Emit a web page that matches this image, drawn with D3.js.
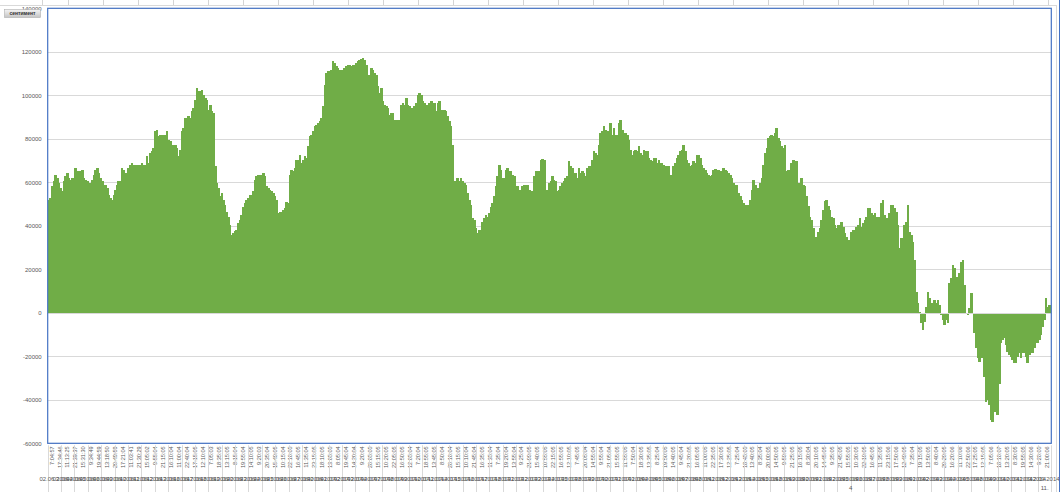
<!DOCTYPE html>
<html>
<head>
<meta charset="utf-8">
<script src="https://cdn.jsdelivr.net/npm/d3@7"></script>
<style>
  body { margin: 0; background: #fff; }
  text { font-family: "Liberation Sans", Arial, sans-serif; }
</style>
</head>
<body>
<svg id="chart"></svg>
<script>
// Page size and the plot box of the pivot chart.
const SVG_WIDTH = 1060;
const SVG_HEIGHT = 492;
const PLOT = {left: 47.7, right: 1051.3, top: 8.3, bottom: 443.3};

const yTicks = [140000, 120000, 100000, 80000, 60000, 40000, 20000, 0, -20000, -40000, -60000];

// сентимент, one value per bar
const sentiment = [
  51900, 52700, 58100, 60400, 63400, 61900, 59600, 57300, 55800, 60400,
  62700, 64200, 61900, 61100, 61900, 60400, 66500, 65000, 64200, 65000,
  65700, 61900, 61100, 60400, 59600, 59600, 61100, 63400, 65700, 66500,
  64200, 61900, 60400, 56500, 58800, 57300, 54200, 52700, 51900, 54200,
  56500, 58800, 60400, 60400, 66500, 65700, 64200, 64200, 66500, 68000,
  68800, 68000, 68000, 68000, 68000, 68000, 68800, 68000, 68000, 71900,
  68800, 73400, 74200, 75700, 83400, 84200, 81100, 81900, 81900, 81900,
  81900, 83400, 79600, 78800, 76500, 77300, 77300, 75700, 71900, 75000,
  83400, 84900, 89500, 88800, 90300, 89500, 92600, 94200, 98000, 103400,
  101800, 101800, 102600, 100300, 98800, 98000, 93400, 95700, 92600, 91900,
  67300, 59600, 57300, 53500, 55000, 51900, 49600, 46500, 44200, 40400,
  35800, 36900, 37400, 38100, 41200, 42700, 45000, 48800, 50400, 51900,
  52700, 54200, 54200, 55800, 61100, 62700, 63400, 61100, 63400, 64200,
  62700, 58100, 57300, 56500, 55800, 55000, 53500, 51900, 45800, 46500,
  46500, 47300, 48100, 51100, 50400, 63400, 65700, 65000, 66500, 70300,
  70300,
  72700, 68800, 70300, 71900, 71100, 76500, 81100, 81900, 83400, 85700,
  86500, 87200, 88000, 89500, 94900, 104900, 110300, 111100, 108700, 111800,
  115700, 114900, 113400, 112600, 111800, 111800, 111500, 112600, 113400, 114100,
  114100, 113400, 114100, 114100, 114900, 115700, 116400, 116700, 117200, 116400,
  114100, 108700, 109500, 112600, 111800, 110300, 109500, 104100, 101100, 103400,
  97200, 95700, 94900, 94200, 91100, 91900, 91900, 88800, 88800, 88000,
  88800, 95700, 96500, 95700, 98800, 95700, 94900, 94200, 94200, 94900,
  96500, 100300, 101100, 100300, 97200, 96500, 95700, 95700, 96500, 97200,
  95700, 96500, 92600, 96500, 97200, 92600, 93400, 93400, 92600, 90300,
  88000, 85700, 77300, 60400, 60400, 61900, 60400, 61900, 60400, 59600,
  58800, 55000, 51900, 49600, 43500, 42700, 38900, 36600, 38100, 38100,
  41900, 43500, 45000, 44200, 45800, 48800, 50400, 53500, 58100, 62700,
  68000, 65700, 61900, 61900, 65700, 66500, 65000, 65000, 63400, 62700,
  58100, 58100, 56500, 54200, 58100, 58800, 58100, 58800, 56500, 55800,
  55800, 62700, 65000, 65000, 65000, 70300,
  70700, 70300, 56500, 56500, 59600, 60400, 62700, 61100, 60400, 55800,
  56500, 58100, 59600, 60400, 61900, 62700, 69600, 67300, 66500, 62700,
  64200, 61900, 66500, 64200, 65000, 64200, 62700, 66500, 67300, 67300,
  70300, 74200, 73400, 72700, 77300, 82600, 83400, 85700, 84200, 83400,
  78000, 87200, 81900, 84900, 81900, 81900, 87200, 88800, 84200, 82600,
  82600, 81900, 79600, 75000, 72700, 74200, 75000, 74200, 76500, 73400,
  72700, 75000, 74200, 74200, 71100, 70300, 69600, 71100, 71100, 68800,
  70300, 68800, 68800, 68000, 67300, 66900, 67300, 63400, 63400, 67300,
  68800, 71100, 72700, 74200, 75000, 77300, 74200, 70300, 68800, 67300,
  68000, 69600, 68800, 72700, 72700, 71100, 68000, 66500, 65700, 64200,
  63400, 62700, 63400, 65700, 66200, 63400, 65700, 65400, 64200, 66500,
  65700, 65000, 64200, 63400, 61900, 59600, 58800, 58800, 55000, 53500,
  51900, 50400, 49600, 49200, 49600, 51900, 56500, 61100, 58800, 56500,
  57300, 59600, 61900, 68000, 73400, 75700, 80300, 81100, 81900, 81100,
  82600, 84900, 80300, 78800, 76500, 75700, 77300, 65000, 65700, 65700,
  68800, 70300, 68800,
  69600, 59600, 58800, 61900, 58800, 58100, 53600, 48900, 44200, 42700,
  38900, 34300, 35000, 37300, 38900, 42700, 47300, 51200, 51900, 48900,
  47300, 44200, 43500, 40400, 38900, 40400, 40400, 41900, 39600, 36600,
  35000, 33500, 31200, 37300, 38100, 35800, 39600, 40400, 43500, 39600,
  41200, 42700, 44200, 48100, 48100, 45800, 45000, 45800, 44200, 44200,
  44200, 50400, 51900, 45000, 43500, 41900, 45800, 49600, 49600, 48100,
  46500, 40400, 29700, 34300, 31200, 40400, 41900, 49600, 37300, 35800,
  32700, 24300, 9700, 4300, 500, -4900, -8000, -4100, 2800, 9700,
  6600, 4300, 3600, 5800, 4300, 5800, 3600, -1100, -3400, -5700,
  -3400, -4900, 13500, 15800, 22000, 20400, 16600, 16600, 18100, 23500,
  24300, 12800, -300, -1100, 2000, 8900, -300, -9500, -16400, -21000,
  -22500, -21000, -20300, -29500, -41000, -40200, -42500, -49400, -50200, -45600,
  -41800, -47100, -32600, -14100, -12600, -11800, -14900, -18000, -19500, -20300,
  -21800, -23300, -23300, -20300, -18700, -21000, -18700, -18700, -20300, -23300,
  -19500, -17200, -18700, -16400, -13300, -14100, -12600, -10300, -6500, -3400,
  6600, 2800, 3600, 2800
];

// first level of the category axis (every few bars gets a time label)
const timeLabels = [
  "7:04:57", "17:34:46", "11:13:25", "21:39:37", "15:31:30", "9:34:49", "19:44:59", "13:18:50",
  "20:49:59", "17:21:04", "11:03:41", "21:30:29", "15:05:02", "9:55:04", "21:15:05", "16:10:04",
  "11:00:04", "22:40:04", "17:15:05", "12:10:04", "7:05:03", "18:35:05", "13:15:05", "8:15:04",
  "19:55:04", "14:10:05", "9:20:03",
  "20:35:04", "15:40:05", "10:15:04", "22:10:05", "16:45:05", "11:35:04", "23:15:05", "18:10:05",
  "13:05:05", "8:05:04", "19:45:04", "14:20:04", "9:20:04", "20:05:05", "15:15:05", "10:20:05",
  "22:05:05", "16:50:05", "12:05:04", "7:20:04", "18:55:05", "13:45:05", "8:50:04", "20:10:04",
  "15:15:05", "10:10:04", "21:45:04", "16:35:05", "11:35:04", "7:35:04", "19:20:04", "13:55:04",
  "9:25:04", "21:00:05", "15:40:05", "10:55:05", "22:15:05", "16:55:05", "12:10:05", "7:45:05",
  "20:05:04", "14:55:04", "9:55:04", "21:05:04", "15:55:05", "11:55:05", "7:50:04", "18:30:05",
  "13:35:05", "8:25:04", "19:50:05", "14:40:05", "9:45:04", "21:20:05", "16:05:05", "11:00:05",
  "22:35:05", "17:30:05", "12:25:05", "7:25:04", "18:45:05", "13:40:05", "8:35:04", "20:00:05",
  "14:50:05", "9:50:05", "21:25:05", "16:15:05",
  "8:30:04", "20:10:05", "14:45:05", "9:35:05", "21:45:05", "15:55:05", "10:30:05", "22:10:05",
  "16:45:05", "11:35:05", "23:15:06", "17:50:06", "12:40:05", "7:35:04", "19:15:05", "13:50:05",
  "8:40:04", "20:20:05", "16:20:06", "11:10:06", "22:50:06", "17:25:05", "12:15:05", "7:05:06",
  "18:10:07", "13:20:05", "8:30:05", "19:55:05", "14:30:06", "9:20:05", "21:00:06"
];

// second level: days
const dayLabels = [
  "02.06.2014", "03.06.2014", "04.06.2014", "05.06.2014", "06.06.2014", "09.06.2014", "10.06.2014",
  "11.06.2014", "12.06.2014", "13.06.2014", "16.06.2014", "17.06.2014", "18.06.2014", "19.06.2014",
  "20.06.2014", "23.06.2014", "24.06.2014", "25.06.2014", "26.06.2014", "27.06.2014", "30.06.2014",
  "01.07.2014", "02.07.2014", "03.07.2014", "04.07.2014", "07.07.2014", "08.07.2014", "09.07.2014",
  "10.07.2014", "11.07.2014", "14.07.2014", "15.07.2014", "16.07.2014", "17.07.2014", "18.07.2014",
  "21.07.2014", "22.07.2014", "23.07.2014", "24.07.2014", "25.07.2014", "28.07.2014", "29.07.2014",
  "30.07.2014", "31.07.2014", "01.08.2014", "04.08.2014", "05.08.2014", "06.08.2014", "07.08.2014",
  "08.08.2014", "11.08.2014", "12.08.2014", "13.08.2014", "14.08.2014", "15.08.2014", "18.08.2014",
  "19.08.2014", "20.08.2014", "21.08.2014", "22.08.2014", "25.08.2014", "26.08.2014", "27.08.2014",
  "28.08.2014", "29.08.2014", "01.09.2014", "02.09.2014", "03.09.2014", "04.09.2014", "05.09.2014",
  "08.09.2014", "09.09.2014", "10.09.2014", "11.09.2014", "12.09.2014"
];

// third level: label and the day index where each group ends
const groupLabels = ["", "4", "11."];
const groupEnds = [46, 74, 75];

const GREEN = '#70ad47';
const BLUE = '#4472c4';
const GRID = '#d9d9d9';
const LABEL = '#595959';

const svg = d3.select('#chart')
  .attr('width', SVG_WIDTH)
  .attr('height', SVG_HEIGHT)
  .attr('viewBox', `0 0 ${SVG_WIDTH} ${SVG_HEIGHT}`);

const x = d3.scaleBand()
  .domain(d3.range(sentiment.length))
  .range([PLOT.left, PLOT.right])
  .padding(0);

const y = d3.scaleLinear()
  .domain([-60000, 140000])
  .range([PLOT.bottom, PLOT.top]);

// sheet cells peeking above the chart area
svg.append('g')
  .selectAll('line')
  .data([42].concat(d3.range(68, 1050, 35)))
  .join('line')
  .attr('x1', d => d + 0.5).attr('x2', d => d + 0.5)
  .attr('y1', 0).attr('y2', 5)
  .attr('stroke', '#d4d4d4');

// chart area frame
svg.append('line')
  .attr('x1', 0).attr('x2', 1057).attr('y1', 5.5).attr('y2', 5.5)
  .attr('stroke', GRID);
svg.append('line')
  .attr('x1', 1056.5).attr('x2', 1056.5).attr('y1', 5).attr('y2', SVG_HEIGHT)
  .attr('stroke', GRID);
svg.append('line')
  .attr('x1', 1059.5).attr('x2', 1059.5).attr('y1', 0).attr('y2', SVG_HEIGHT)
  .attr('stroke', BLUE);

// horizontal gridlines
svg.append('g')
  .selectAll('line')
  .data(yTicks)
  .join('line')
  .attr('x1', PLOT.left).attr('x2', PLOT.right)
  .attr('y1', d => Math.round(y(d)) + 0.5)
  .attr('y2', d => Math.round(y(d)) + 0.5)
  .attr('stroke', GRID);

// the bars: pixel snapped and one px wider than the band so they butt together
svg.append('g')
  .attr('shape-rendering', 'crispEdges')
  .selectAll('rect')
  .data(sentiment)
  .join('rect')
  .attr('x', (d, i) => x(i))
  .attr('width', (d, i) => i === sentiment.length - 1 ? x.bandwidth() : x.bandwidth() + 1)
  .attr('y', d => y(Math.max(0, d)))
  .attr('height', d => Math.abs(y(d) - y(0)))
  .attr('fill', GREEN);

// category axis line sits on zero
svg.append('line')
  .attr('x1', PLOT.left).attr('x2', PLOT.right)
  .attr('y1', Math.round(y(0)) + 0.5).attr('y2', Math.round(y(0)) + 0.5)
  .attr('stroke', GRID);

// plot area border
svg.append('rect')
  .attr('x', PLOT.left).attr('y', PLOT.top)
  .attr('width', PLOT.right - PLOT.left)
  .attr('height', PLOT.bottom - PLOT.top)
  .attr('fill', 'none')
  .attr('stroke', BLUE)
  .attr('stroke-width', 1.2);

// value axis labels, the top one gets cut by the chart area edge
svg.append('clipPath').attr('id', 'area-clip')
  .append('rect').attr('x', 0).attr('y', 6).attr('width', SVG_WIDTH).attr('height', SVG_HEIGHT);

const yAxis = svg.append('g')
  .attr('clip-path', 'url(#area-clip)')
  .append('g')
  .attr('transform', `translate(${PLOT.left},0)`)
  .call(d3.axisLeft(y).tickValues(yTicks).tickSize(0).tickPadding(6).tickFormat(d => String(d)));
yAxis.select('.domain').remove();
yAxis.selectAll('text')
  .attr('fill', LABEL)
  .style('font-size', '6px');

// time labels, rotated
const tx = d3.scaleBand()
  .domain(timeLabels.map((d, i) => i))
  .range([PLOT.left, PLOT.right]);

const timeAxis = svg.append('g')
  .attr('transform', `translate(0,${PLOT.bottom})`)
  .call(d3.axisBottom(tx).tickSize(0).tickFormat(i => timeLabels[i]));
timeAxis.select('.domain').remove();
timeAxis.selectAll('text')
  .attr('transform', 'rotate(-90)')
  .attr('text-anchor', 'end')
  .attr('x', -3)
  .attr('y', 0)
  .attr('dy', '0.33em')
  .attr('fill', LABEL)
  .style('font-size', '5.6px');

// day labels, overlapping into a smear like in excel
const dx = d3.scaleBand()
  .domain(dayLabels.map((d, i) => i))
  .range([PLOT.left, PLOT.right]);

svg.append('g')
  .selectAll('line')
  .data(d3.range(dayLabels.length + 1))
  .join('line')
  .attr('x1', i => Math.round(PLOT.left + i * dx.step()) + 0.5)
  .attr('x2', i => Math.round(PLOT.left + i * dx.step()) + 0.5)
  .attr('y1', PLOT.bottom + 2)
  .attr('y2', SVG_HEIGHT)
  .attr('stroke', GRID);

svg.append('g')
  .selectAll('text')
  .data(dayLabels)
  .join('text')
  .attr('x', (d, i) => dx(i) + dx.bandwidth() / 2)
  .attr('y', 481)
  .attr('text-anchor', 'middle')
  .attr('fill', LABEL)
  .style('font-size', '6px')
  .text(d => d);

// third level
svg.append('g')
  .selectAll('text')
  .data(groupLabels)
  .join('text')
  .attr('x', (d, i) => {
    const from = i === 0 ? 0 : groupEnds[i - 1];
    return PLOT.left + (from + groupEnds[i]) / 2 * dx.step();
  })
  .attr('y', 490)
  .attr('text-anchor', 'middle')
  .attr('fill', LABEL)
  .style('font-size', '6px')
  .text(d => d);

// pivot field button
const grad = svg.append('defs').append('linearGradient')
  .attr('id', 'btn').attr('x1', 0).attr('x2', 0).attr('y1', 0).attr('y2', 1);
grad.append('stop').attr('offset', '0%').attr('stop-color', '#f4f4f4');
grad.append('stop').attr('offset', '100%').attr('stop-color', '#c4c4c4');

svg.append('rect')
  .attr('x', 4.5).attr('y', 9.5)
  .attr('width', 36).attr('height', 8)
  .attr('fill', 'url(#btn)')
  .attr('stroke', '#b0b0b0')
  .attr('stroke-width', 0.6);
svg.append('text')
  .attr('x', 22.5).attr('y', 15.4)
  .attr('text-anchor', 'middle')
  .attr('fill', '#303030')
  .style('font-size', '5px')
  .style('font-weight', 'bold')
  .text('сентимент');
</script>
</body>
</html>
